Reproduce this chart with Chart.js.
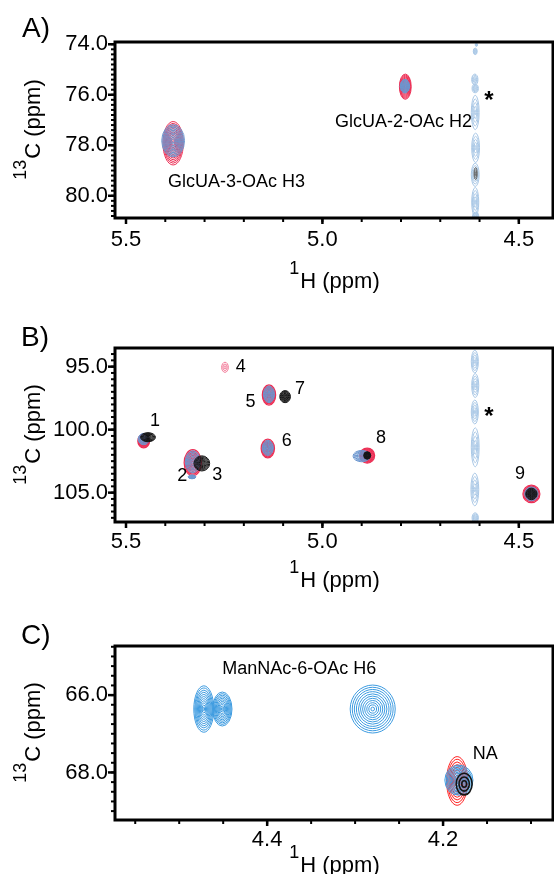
<!DOCTYPE html>
<html><head><meta charset="utf-8">
<script src="https://cdn.jsdelivr.net/npm/chart.js@4.4.1/dist/chart.umd.min.js"></script>
<style>
html,body{margin:0;padding:0;background:#fff;}
body{width:554px;height:874px;position:relative;overflow:hidden;}
canvas{position:absolute;left:0;}
</style></head><body>
<canvas id="cA" width="554" height="300" style="top:0;width:554px;height:300px"></canvas>
<canvas id="cB" width="554" height="300" style="top:300px;width:554px;height:300px"></canvas>
<canvas id="cC" width="554" height="274" style="top:600px;width:554px;height:274px"></canvas>
<script>
// ---------- Panel A data (ppm) ----------
const aXTicks = [5.5, 5.0, 4.5];
const aYTicks = [74.0, 76.0, 78.0, 80.0];
const aRedCenters = [[5.380, 77.92], [4.789, 75.68]];
const aRedHalf = [[0.026, 0.86], [0.015, 0.50]];
const aBlueCenters = [[5.380, 77.82], [4.790, 75.66]];
const aBlueHalf = [[0.029, 0.64], [0.012, 0.27]];
const aStreakCenters = [[4.608, 74.02], [4.611, 74.28], [4.612, 75.40], [4.611, 75.75], [4.611, 76.70], [4.610, 78.10], [4.611, 79.17], [4.611, 80.25], [4.610, 80.80]];
const aStreakHalf = [[0.003, 0.06], [0.005, 0.13], [0.008, 0.22], [0.008, 0.17], [0.010, 0.68], [0.010, 0.58], [0.010, 0.46], [0.009, 0.58], [0.008, 0.15]];
const aGrayCenters = [[4.610, 79.12]];
const aGrayHalf = [[0.004, 0.24]];
const aLabels = ['GlcUA-3-OAc H3', 'GlcUA-2-OAc H2', '*'];
const aLabelAt = [[5.393, 79.45], [4.968, 77.07], [4.576, 76.17]];

// ---------- Panel B data (ppm) ----------
const bXTicks = [5.5, 5.0, 4.5];
const bYTicks = [95.0, 100.0, 105.0];
const bRedCenters = [[5.455, 100.90], [5.330, 102.62], [5.136, 97.25], [5.139, 101.50], [4.886, 102.06], [4.468, 105.10]];
const bRedHalf = [[0.015, 0.55], [0.022, 1.03], [0.017, 0.80], [0.017, 0.74], [0.019, 0.60], [0.0216, 0.70]];
const bPinkCenters = [[5.248, 95.05]];
const bPinkHalf = [[0.0085, 0.40]];
const bBlueCenters = [[5.455, 100.75], [5.330, 102.55], [5.332, 103.75], [5.136, 97.20], [5.139, 101.45], [4.900, 102.10], [4.468, 105.10]];
const bBlueHalf = [[0.014, 0.45], [0.019, 0.87], [0.010, 0.15], [0.014, 0.66], [0.014, 0.60], [0.022, 0.45], [0.017, 0.55]];
const bBlackCenters = [[5.444, 100.60], [5.307, 102.68], [5.095, 97.38], [4.886, 102.05], [4.468, 105.10]];
const bBlackHalf = [[0.019, 0.36], [0.020, 0.60], [0.0136, 0.48], [0.009, 0.30], [0.0145, 0.46]];
const bStreakCenters = [[4.612, 94.60], [4.611, 96.50], [4.612, 98.60], [4.611, 101.40], [4.612, 104.75], [4.611, 107.00]];
const bStreakHalf = [[0.009, 0.90], [0.009, 0.95], [0.009, 0.95], [0.010, 1.55], [0.010, 1.30], [0.008, 0.40]];
const bLabels = ['1', '2', '3', '4', '5', '6', '7', '8', '9', '*'];
const bLabelAt = [[5.426, 99.34], [5.357, 103.67], [5.268, 103.59], [5.208, 95.02], [5.183, 97.77], [5.091, 100.94], [5.057, 96.78], [4.851, 100.66], [4.497, 103.49], [4.576, 98.89]];

// ---------- Panel C data (ppm) ----------
const cXTicks = [4.4, 4.2];
const cYTicks = [66.0, 68.0];
const cRedCenters = [[4.184, 68.22]];
const cRedHalf = [[0.012, 0.63]];
const cBlueCenters = [[4.472, 66.36], [4.451, 66.36], [4.280, 66.36], [4.182, 68.20]];
const cBlueHalf = [[0.0114, 0.60], [0.0110, 0.44], [0.0256, 0.62], [0.016, 0.39]];
const cBlackCenters = [[4.176, 68.30]];
const cBlackHalf = [[0.009, 0.28]];
const cLabels = ['ManNAc-6-OAc H6', 'NA'];
const cLabelAt = [[4.451, 65.33], [4.152, 67.53]];

// ---------- styles / layout ----------
const FONT = '"Liberation Sans", Arial, Helvetica, sans-serif';
const COL = {red: '#ec2f55', pink: '#f27a98', blue: '#6b96cf', light: '#aac8e6', black: '#141414', gray: '#6a6a6a',
             cblue: '#3d9be0', cred: '#ff2020'};

function ds(centers, half, color, levels, lw, inner) {
  return {data: centers.map(([x, y]) => ({x, y})), hw: half, color, levels, lw, inner,
          pointRadius: 0, pointHoverRadius: 0, showLine: false};
}

const contourPlugin = {
  id: 'contours',
  beforeDatasetsDraw(chart) {
    const {ctx, chartArea: a} = chart;
    const xs = chart.scales.x, ys = chart.scales.y;
    ctx.save();
    ctx.beginPath(); ctx.rect(a.left, a.top, a.right - a.left, a.bottom - a.top); ctx.clip();
    chart.data.datasets.forEach((d, i) => {
      const meta = chart.getDatasetMeta(i);
      meta.data.forEach((el, j) => {
        const p = d.data[j];
        const [hx, hy] = d.hw[j];
        const rx = Math.abs(xs.getPixelForValue(p.x + hx) - el.x);
        const ry = Math.abs(ys.getPixelForValue(p.y + hy) - el.y);
        const n = d.levels;
        ctx.strokeStyle = d.color; ctx.lineWidth = d.lw;
        for (let k = 0; k < n; k++) {
          const s = n === 1 ? 1 : 1 - k * (1 - d.inner) / (n - 1);
          ctx.beginPath();
          ctx.ellipse(el.x, el.y, Math.max(rx * s, 0.3), Math.max(ry * s, 0.3), 0, 0, Math.PI * 2);
          ctx.stroke();
        }
      });
    });
    ctx.restore();
  }
};

function framePlugin(P) {
  return {
    id: 'frame',
    afterDraw(chart) {
      const {ctx, chartArea: a} = chart;
      const xs = chart.scales.x, ys = chart.scales.y;
      ctx.save();
      ctx.strokeStyle = '#000';
      const minorVals = (lo, hi, st) => { const out = []; const s = Math.ceil(lo / st - 1e-9), e = Math.floor(hi / st + 1e-9); for (let k = s; k <= e; k++) out.push(k * st); return out; };
      ctx.lineWidth = 2;
      minorVals(xs.min, xs.max, P.xMinor).forEach(v => { const px = xs.getPixelForValue(v); ctx.beginPath(); ctx.moveTo(px, a.bottom); ctx.lineTo(px, a.bottom + 4); ctx.stroke(); });
      minorVals(ys.min, ys.max, P.yMinor).forEach(v => { const py = ys.getPixelForValue(v); ctx.beginPath(); ctx.moveTo(a.left, py); ctx.lineTo(a.left - 4, py); ctx.stroke(); });
      ctx.lineWidth = 2.5;
      P.xTicks.forEach(v => { const px = xs.getPixelForValue(v); ctx.beginPath(); ctx.moveTo(px, a.bottom); ctx.lineTo(px, a.bottom + 6); ctx.stroke(); });
      P.yTicks.forEach(v => { const py = ys.getPixelForValue(v); ctx.beginPath(); ctx.moveTo(a.left, py); ctx.lineTo(a.left - 7, py); ctx.stroke(); });
      ctx.lineWidth = 3;
      ctx.strokeRect(a.left, a.top, a.right - a.left, a.bottom - a.top);
      ctx.fillStyle = '#000';
      ctx.textBaseline = 'middle';
      ctx.font = '28px ' + FONT; ctx.textAlign = 'left';
      ctx.fillText(P.letter, P.letterX, P.letterY);
      P.labels.forEach((t, i) => {
        const [vx, vy] = P.labelAt[i];
        ctx.textAlign = P.labelAlign[i];
        ctx.font = (t === '*' ? 'bold 24px ' : '18px ') + FONT;
        ctx.fillText(t, xs.getPixelForValue(vx), ys.getPixelForValue(vy) + (t === '*' ? 2 : 0));
      });
      ctx.textBaseline = 'alphabetic'; ctx.textAlign = 'left';
      const drawSup = (sup, main, cx, base) => {
        ctx.font = '18px ' + FONT; const ws = ctx.measureText(sup).width;
        ctx.font = '22px ' + FONT; const wm = ctx.measureText(main).width;
        const x0 = cx - (ws + wm) / 2;
        ctx.font = '18px ' + FONT; ctx.fillText(sup, x0, base - 14);
        ctx.font = '22px ' + FONT; ctx.fillText(main, x0 + ws + 1, base);
      };
      drawSup('1', 'H (ppm)', (a.left + a.right) / 2, P.xTitleBase);
      ctx.save();
      ctx.translate(40, (a.top + a.bottom) / 2);
      ctx.rotate(-Math.PI / 2);
      drawSup('13', 'C (ppm)', 0, 0);
      ctx.restore();
      ctx.restore();
    }
  };
}

function makePanel(id, P) {
  const H = document.getElementById(id).height;
  return new Chart(document.getElementById(id), {
    type: 'scatter',
    data: {datasets: P.datasets},
    options: {
      responsive: false, animation: false, devicePixelRatio: 1,
      layout: {padding: {top: P.top, right: 1, left: 0, bottom: 0}},
      plugins: {legend: {display: false}, tooltip: {enabled: false}},
      events: [],
      scales: {
        x: {type: 'linear', reverse: true, min: P.xMin, max: P.xMax,
            grid: {display: false, drawTicks: false}, border: {display: false},
            afterBuildTicks: s => { s.ticks = P.xTicks.map(v => ({value: v})); },
            afterFit: s => { s.height = H - P.bottom; },
            ticks: {autoSkip: false, maxRotation: 0, padding: P.xPad, color: '#000',
                    font: {family: FONT, size: 22}, callback: v => Number(v).toFixed(1)}},
        y: {type: 'linear', reverse: true, min: P.yMin, max: P.yMax,
            grid: {display: false, drawTicks: false}, border: {display: false},
            afterBuildTicks: s => { s.ticks = P.yTicks.map(v => ({value: v})); },
            afterFit: s => { s.width = 115; },
            ticks: {autoSkip: false, padding: 7, color: '#000',
                    font: {family: FONT, size: 22}, callback: v => Number(v).toFixed(1)}}
      }
    },
    plugins: [contourPlugin, framePlugin(P)]
  });
}

makePanel('cA', {
  top: 42, bottom: 218, xMin: 4.413, xMax: 5.528, yMin: 73.91, yMax: 80.88, xPad: 8.5,
  xTicks: aXTicks, yTicks: aYTicks, xMinor: 0.1, yMinor: 0.2,
  letter: 'A)', letterX: 22, letterY: 29, xTitleBase: 288,
  labels: aLabels, labelAt: aLabelAt, labelAlign: ['left', 'left', 'center'],
  datasets: [
    ds(aStreakCenters, aStreakHalf, COL.light, 5, 1, 0.15),
    ds(aGrayCenters, aGrayHalf, COL.gray, 3, 1, 0.3),
    ds(aRedCenters, aRedHalf, COL.red, 12, 1, 0.12),
    ds(aBlueCenters, aBlueHalf, COL.blue, 11, 1, 0.12)
  ]
});

makePanel('cB', {
  top: 48, bottom: 222, xMin: 4.413, xMax: 5.528, yMin: 93.52, yMax: 107.33, xPad: 6.5,
  xTicks: bXTicks, yTicks: bYTicks, xMinor: 0.1, yMinor: 0.5,
  letter: 'B)', letterX: 21, letterY: 38, xTitleBase: 287,
  labels: bLabels, labelAt: bLabelAt, labelAlign: bLabels.map(() => 'center'),
  datasets: [
    ds(bStreakCenters, bStreakHalf, COL.light, 5, 1, 0.15),
    ds(bRedCenters, bRedHalf, COL.red, 9, 1.2, 0.12),
    ds(bPinkCenters, bPinkHalf, COL.pink, 3, 1, 0.3),
    ds(bBlueCenters, bBlueHalf, COL.blue, 8, 1, 0.12),
    ds(bBlackCenters, bBlackHalf, COL.black, 9, 1, 0.1)
  ]
});

makePanel('cC', {
  top: 46, bottom: 220, xMin: 4.075, xMax: 4.573, yMin: 64.73, yMax: 69.23, xPad: 6.5,
  xTicks: cXTicks, yTicks: cYTicks, xMinor: 0.05, yMinor: 0.25,
  letter: 'C)', letterX: 21, letterY: 36, xTitleBase: 272,
  labels: cLabels, labelAt: cLabelAt, labelAlign: ['left', 'center'],
  datasets: [
    ds(cRedCenters, cRedHalf, COL.cred, 9, 1, 0.12),
    ds(cBlueCenters, cBlueHalf, COL.cblue, 11, 1, 0.08),
    ds(cBlackCenters, cBlackHalf, COL.black, 3, 1.6, 0.3)
  ]
});
</script>
</body></html>
